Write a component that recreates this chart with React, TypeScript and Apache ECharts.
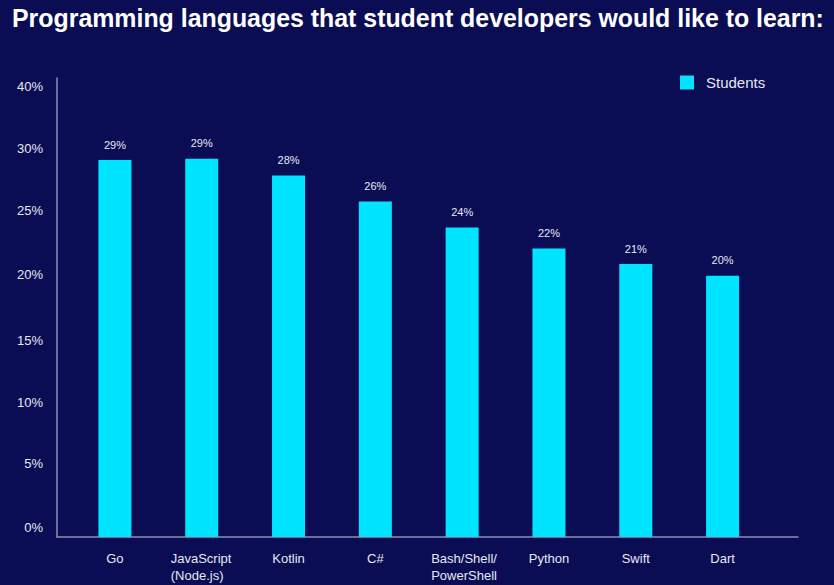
import React, { useEffect, useRef } from "react";
import * as echarts from "echarts";

const categories = [
  "Go",
  "JavaScript\n(Node.js)",
  "Kotlin",
  "C#",
  "Bash/Shell/\nPowerShell",
  "Python",
  "Swift",
  "Dart",
];
const studentValues = [29.0, 29.1, 27.8, 25.8, 23.8, 22.2, 21.0, 20.1];
const yTickValues = [0, 5, 10, 15, 20, 25, 30, 35];
const yTickLabels = ["0%", "5%", "10%", "15%", "20%", "25%", "30%", "40%"];
const seriesName = "Students";
const titleText = "Programming languages that student developers would like to learn:";

const BG = "#0a0d54";
const CYAN = "#00e5ff";
const TEXT = "#e6e8f2";
const AXIS = "#8d90a8";
const FONT = "'Liberation Sans', Arial, sans-serif";

// per-label vertical nudges (padding) so labels sit where the reference puts them
const labelPads: number[][] = [
  [0, 0, 20, 0],
  [0, 0, 18, 0],
  [0, 0, 10, 0],
  [0, 0, 4, 0],
  [0, 0, 6, 0],
  [0, 0, 4, 0],
  [2, 0, 0, 0],
  [8, 0, 0, 0],
];

export default function App() {
  const ref = useRef<HTMLDivElement>(null);
  useEffect(() => {
    if (!ref.current) return;
    const chart = echarts.init(ref.current, undefined, { renderer: "svg" });
    const rich: Record<string, any> = {};
    labelPads.forEach((p, i) => {
      rich["p" + i] = { padding: p, color: TEXT, fontSize: 13, fontFamily: FONT };
    });
    const yMax = 459 / 13;
    chart.setOption({
      animation: false,
      backgroundColor: BG,
      title: {
        text: titleText,
        left: 7,
        top: 0,
        textStyle: { color: "#ffffff", fontSize: 24.9, fontWeight: "bold", fontFamily: FONT },
      },
      legend: {
        data: [seriesName],
        left: 680,
        top: 75,
        padding: 0,
        icon: "rect",
        itemWidth: 14,
        itemHeight: 14,
        textStyle: { color: TEXT, fontSize: 15, fontFamily: FONT, padding: [0, 0, 0, 7] },
      },
      grid: [
        { left: 57, right: 36, top: 78, bottom: 48, containLabel: false },
        { left: 71.5, right: 68, top: 78, bottom: 48, containLabel: false },
      ],
      xAxis: [
        {
          type: "value",
          gridIndex: 0,
          min: 0,
          max: 1,
          axisLine: { show: true, lineStyle: { color: AXIS, width: 1.5 } },
          axisTick: { show: false },
          axisLabel: { show: false },
          splitLine: { show: false },
        },
        {
          type: "category",
          gridIndex: 1,
          data: categories,
          axisLine: { show: false },
          axisTick: { show: false },
          axisLabel: {
            color: TEXT,
            fontSize: 13,
            fontFamily: FONT,
            margin: 13,
            lineHeight: 17,
            interval: 0,
            formatter: (v: string) => {
              if (v.indexOf("\n") < 0) return v;
              return v
                .split("\n")
                .map((s) => "{l|" + s + "}")
                .join("\n");
            },
            rich: {
              l: {
                width: 62,
                align: "left",
                color: TEXT,
                fontSize: 13,
                fontFamily: FONT,
                lineHeight: 17,
              },
            },
          },
        },
      ],
      yAxis: [
        {
          type: "value",
          gridIndex: 0,
          min: 0,
          max: yMax,
          interval: 5,
          axisLine: { show: true, lineStyle: { color: AXIS, width: 1.5 } },
          axisTick: { show: false },
          splitLine: { show: false },
          axisLabel: {
            margin: 14,
            color: TEXT,
            fontSize: 13,
            fontFamily: FONT,
            rich,
            formatter: (v: number) => {
              const i = yTickValues.indexOf(Math.round(v * 1000) / 1000);
              if (i < 0) return "";
              return "{p" + i + "|" + yTickLabels[i] + "}";
            },
          },
        },
        {
          type: "value",
          gridIndex: 1,
          min: 0,
          max: yMax,
          show: false,
          splitLine: { show: false },
        },
      ],
      series: [
        {
          name: seriesName,
          type: "bar",
          xAxisIndex: 1,
          yAxisIndex: 1,
          data: studentValues,
          barWidth: 33,
          itemStyle: { color: CYAN },
          label: {
            show: true,
            position: "top",
            distance: 10,
            color: TEXT,
            fontSize: 11,
            fontFamily: FONT,
            formatter: (p: any) => Math.round(p.value) + "%",
          },
        },
      ],
    });
    return () => chart.dispose();
  }, []);
  return (
    <div
      ref={ref}
      style={{ position: "fixed", left: 0, top: 0, width: 834, height: 585, background: BG }}
    />
  );
}
